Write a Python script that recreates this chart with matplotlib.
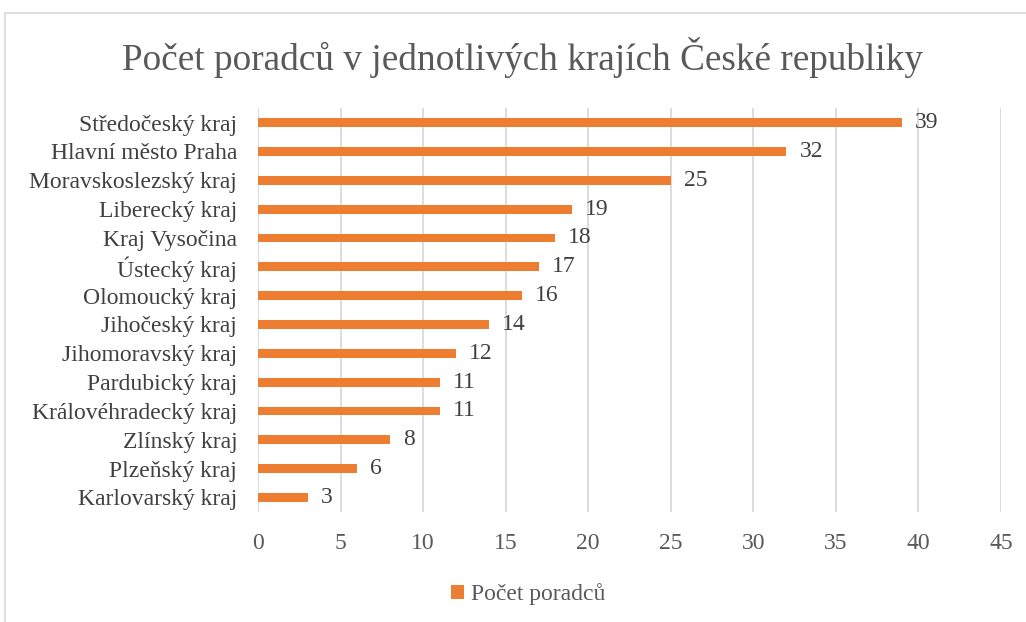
import matplotlib.pyplot as plt
from matplotlib.patches import Rectangle

regions = ["Středočeský kraj", "Hlavní město Praha", "Moravskoslezský kraj",
           "Liberecký kraj", "Kraj Vysočina", "Ústecký kraj", "Olomoucký kraj",
           "Jihočeský kraj", "Jihomoravský kraj", "Pardubický kraj",
           "Královéhradecký kraj", "Zlínský kraj", "Plzeňský kraj",
           "Karlovarský kraj"]
counts = [39, 32, 25, 19, 18, 17, 16, 14, 12, 11, 11, 8, 6, 3]
x_ticks = [0, 5, 10, 15, 20, 25, 30, 35, 40, 45]

plt.rcParams['font.family'] = ['Liberation Serif', 'DejaVu Serif']

fig = plt.figure(figsize=(10.26, 6.22), dpi=100)
ax = fig.add_axes([0.2515, 0.177, 0.724, 0.649])

# outer chart frame (partly cut off on right/bottom)
fig.patches.append(Rectangle((5 / 1026, -0.1), 1.2, 1 - 13 / 622 + 0.1,
                             transform=fig.transFigure, fill=False,
                             edgecolor='#d9d9d9', linewidth=1.2))

pos = list(range(len(regions)))
bars = ax.barh(pos, counts, height=0.31, color='#ED7D31', zorder=3)
for p, v in zip(pos, counts):
    ax.text(v + 0.8, p, str(v), va='center', ha='left', fontsize=17,
            color='#404040')

ax.set_yticks(pos)
ax.set_yticklabels(regions, fontsize=17, color='#404040')
ax.set_ylim(len(regions) - 0.5, -0.5)
ax.set_xlim(0, 45)
ax.set_xticks(x_ticks)
ax.set_xticklabels([str(t) for t in x_ticks], fontsize=17, color='#595959')
ax.tick_params(axis='both', length=0)
ax.tick_params(axis='x', pad=15)
ax.tick_params(axis='y', pad=15)
ax.grid(axis='x', color='#d9d9d9', linewidth=1.3, zorder=0)
for s in ax.spines.values():
    s.set_visible(False)

fig.text(0.509, 0.908, "Počet poradců v jednotlivých krajích České republiky",
         ha='center', va='center', fontsize=26.8, color='#595959')

ax.legend([bars], ["Počet poradců"], loc='center', bbox_to_anchor=(0.515, 0.045),
          bbox_transform=fig.transFigure, frameon=False, fontsize=17,
          handlelength=0.55, handleheight=0.55, handletextpad=0.3,
          labelcolor='#595959')

fig.savefig('out.png', dpi=100)
